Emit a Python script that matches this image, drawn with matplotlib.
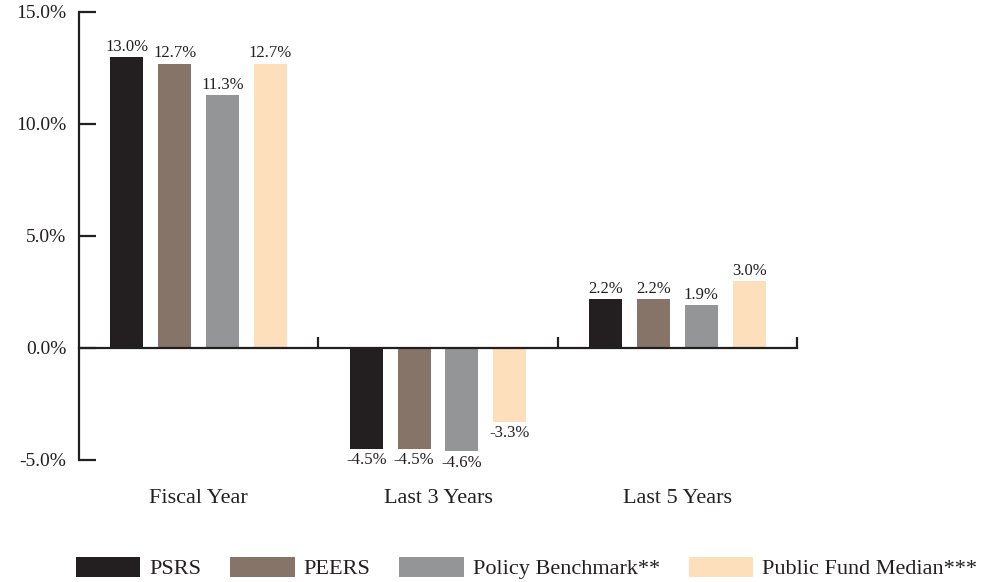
import matplotlib
matplotlib.use("Agg")
import matplotlib.pyplot as plt
from matplotlib.transforms import blended_transform_factory

plt.rcParams['font.family'] = ['Liberation Serif', 'DejaVu Serif']

categories = ["Fiscal Year", "Last 3 Years", "Last 5 Years"]
series_names = ["PSRS", "PEERS", "Policy Benchmark**", "Public Fund Median***"]
psrs = [13.0, -4.5, 2.2]
peers = [12.7, -4.5, 2.2]
policy = [11.3, -4.6, 1.9]
median = [12.7, -3.3, 3.0]
series_values = [psrs, peers, policy, median]
colors = ["#231f20", "#867469", "#949597", "#fde0bb"]
yticks = [-5, 0, 5, 10, 15]

ink = "#231f20"
fig = plt.figure(figsize=(9.82, 5.82), dpi=100)
ax = fig.add_axes([79/982, 1-460/582, (797-79)/982, 448/582])

bw = 0.138
handles = []
for j, (name, vals, c) in enumerate(zip(series_names, series_values, colors)):
    xs = [i + 0.2*(j+1) for i in range(len(categories))]
    bars = ax.bar(xs, vals, width=bw, color=c, label=name, zorder=2)
    handles.append(bars)
    for x, v in zip(xs, vals):
        if v >= 0:
            ax.annotate(f"{v:.1f}%", (x, v), xytext=(0, 1.5), textcoords="offset points",
                        ha="center", va="bottom", fontsize=12, color=ink)
        else:
            ax.annotate(f"{v:.1f}%", (x, v), xytext=(0, -2.5), textcoords="offset points",
                        ha="center", va="top", fontsize=12, color=ink)

ax.set_xlim(0, 3)
ax.set_ylim(-5, 15)
ax.set_yticks(yticks)
ax.set_yticklabels([f"{t:.1f}%" for t in yticks])
ax.set_xticks([1, 2, 3])
ax.set_xticklabels([])
ax.spines['top'].set_visible(False)
ax.spines['right'].set_visible(False)
ax.spines['bottom'].set_position(('data', 0))
for s in ['left', 'bottom']:
    ax.spines[s].set_linewidth(1.6)
    ax.spines[s].set_color(ink)
    ax.spines[s].set_zorder(3)
ax.tick_params(axis='y', direction='in', length=12, width=1.6, color=ink,
               labelsize=14, labelcolor=ink, pad=9)
ax.tick_params(axis='x', direction='in', length=8, width=1.6, color=ink)

trans = blended_transform_factory(ax.transData, ax.transAxes)
for i, cat in enumerate(categories):
    ax.text(i + 0.5, -0.085, cat, transform=trans, ha="center", va="center",
            fontsize=16, color=ink)

fig.legend(handles=handles, labels=series_names, loc="center left",
           bbox_to_anchor=(76/982, 1-568/582), ncol=4, frameon=False,
           fontsize=16, handlelength=2.9, handleheight=1.0, handletextpad=0.4,
           columnspacing=1.3, borderpad=0, borderaxespad=0, labelcolor=ink)

fig.savefig("out.png", dpi=100)
